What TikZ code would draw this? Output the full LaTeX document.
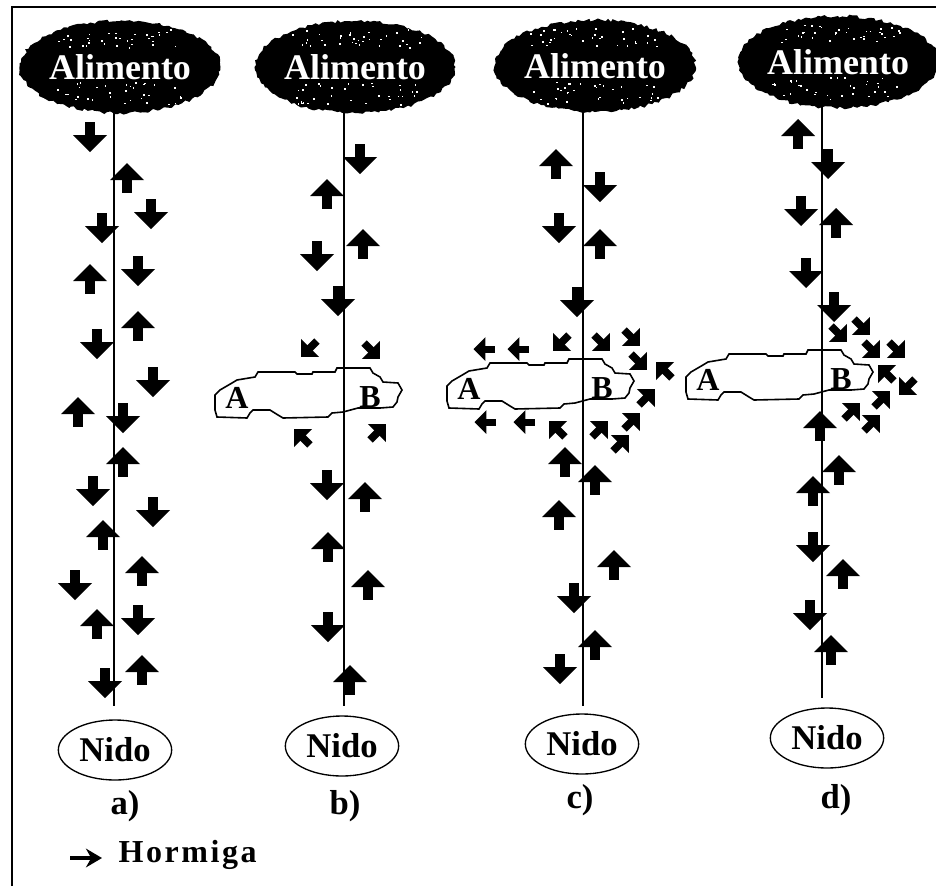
\documentclass[tikz,border=0pt]{standalone}
\usepackage{fontspec}
\setmainfont{Liberation Serif}
\newfontfamily\legendfont[LetterSpace=8.0]{Liberation Serif}
\usetikzlibrary{shapes.geometric, decorations.pathmorphing, arrows.meta}

\begin{document}
\begin{tikzpicture}[x=0.75pt, y=-0.75pt,
  trail/.style={line width=1.5pt},
  foodcloud/.style={ellipse, fill=black, text=white, inner sep=0pt,
    minimum width=124pt, minimum height=69pt,
    font=\fontsize{27}{27}\selectfont\bfseries,
    decorate, decoration={random steps, segment length=2.5pt, amplitude=1.2pt}},
  nestnode/.style={ellipse, draw, line width=1pt, inner sep=0pt,
    minimum width=85pt, minimum height=45pt,
    font=\fontsize{26}{26}\selectfont\bfseries},
  panellabel/.style={font=\fontsize{26}{26}\selectfont\bfseries},
  lobelabel/.style={font=\fontsize{24}{24}\selectfont\bfseries, inner sep=0pt},
  legendarrow/.style={line width=3.5pt, -{Stealth[length=12pt, width=14pt]}},
  goup/.style={rotate=180},
  goleft/.style={rotate=-90, scale=0.7},
  downleft/.style={rotate=-45, scale=0.75},
  downright/.style={rotate=45, scale=0.75},
  upleft/.style={rotate=-135, scale=0.75},
  upright/.style={rotate=135, scale=0.75},
  ant/.pic={
    \fill (-5,-15) rectangle (5,-1);
    \fill (-17,-2) -- (17,-2) -- (0,15) -- cycle;
  },
  obstacle/.pic={
    \draw[line width=1.2pt] (-86,-23) -- (-49,-23) -- (-47,-21) -- (-32,-21) -- (-31,-23)
      -- (-9,-23) -- (-7,-27) -- (26,-27) -- (29,-22) -- (36,-18) -- (39,-13)
      -- (54,-12) -- (58,-5) -- (54,2) -- (53,7) -- (49,12) -- (36,13) -- (14,13)
      -- (-1,17) -- (-12,18) -- (-16,22) -- (-61,23) -- (-66,20) -- (-74,15)
      -- (-91,15) -- (-94,18) -- (-97,23) -- (-127,22) -- (-129,15) -- (-129,0)
      -- (-124,-5) -- (-112,-12) -- (-107,-15) -- (-89,-18) -- cycle;
    \node[lobelabel] (-a) at (-107,3) {A};
    \node[lobelabel] (-b) at (26,2) {B};
  }
]
  \useasboundingbox (0,0) rectangle (936,886);

  % Frame
  \coordinate (frame-bl) at (12,886);
  \coordinate (frame-tl) at (12,7);
  \coordinate (frame-tr) at (936,7);
  \draw[line width=1.5pt] (frame-bl) -- (frame-tl) -- (frame-tr);

  % Food and nest
  \node[foodcloud] (food-a) at (120,67) {Alimento};
  \node[foodcloud] (food-b) at (355,67) {Alimento};
  \node[foodcloud] (food-c) at (595,66) {Alimento};
  \node[foodcloud] (food-d) at (838,62) {Alimento};
  \pgfmathsetseed{7}
  \foreach \c in {a,b,c,d} {
    \foreach \i in {1,...,34} {
      \fill[white] ([shift={(rand*66,-29+rand*9)}]food-\c.center) rectangle ++(1.6,1.6);
      \fill[white] ([shift={(rand*66,26+rand*11)}]food-\c.center) rectangle ++(1.6,1.6);
    }
  }
  \node[nestnode] (nest-a) at (115,750) {Nido};
  \node[nestnode] (nest-b) at (342,746) {Nido};
  \node[nestnode] (nest-c) at (582,744) {Nido};
  \node[nestnode] (nest-d) at (827,738) {Nido};

  % Trails
  \coordinate (top-a) at (114,110);
  \coordinate (bot-a) at (114,706);
  \coordinate (top-b) at (344,113);
  \coordinate (bot-b) at (344,706);
  \coordinate (top-c) at (583,111);
  \coordinate (bot-c) at (583,706);
  \coordinate (top-d) at (822,106);
  \coordinate (bot-d) at (822,698);
  \draw[trail] (top-a) -- (bot-a);
  \draw[trail] (top-b) -- (bot-b);
  \draw[trail] (top-c) -- (bot-c);
  \draw[trail] (top-d) -- (bot-d);

  % Obstacles
  \pic (obst-b) at (344,395) {obstacle};
  \pic (obst-c) at (576,386) {obstacle};
  \pic (obst-d) at (815,377) {obstacle};

  % Panel a
  \pic at (90,137) {ant};
  \pic[goup] at (127,178) {ant};
  \pic at (151,214) {ant};
  \pic at (102,228) {ant};
  \pic at (138,271) {ant};
  \pic[goup] at (90,279) {ant};
  \pic[goup] at (138,326) {ant};
  \pic at (97,344) {ant};
  \pic at (153,382) {ant};
  \pic[goup] at (78,412) {ant};
  \pic at (123,418) {ant};
  \pic[goup] at (123,462) {ant};
  \pic at (93,491) {ant};
  \pic at (153,512) {ant};
  \pic[goup] at (103,535) {ant};
  \pic[goup] at (142,571) {ant};
  \pic at (75,585) {ant};
  \pic at (138,620) {ant};
  \pic[goup] at (97,624) {ant};
  \pic[goup] at (142,670) {ant};
  \pic at (105,683) {ant};

  % Panel b
  \pic at (360,159) {ant};
  \pic[goup] at (327,194) {ant};
  \pic[goup] at (363,244) {ant};
  \pic at (317,256) {ant};
  \pic at (338,301) {ant};
  \pic[downleft] at (309,349) {ant};
  \pic[downright] at (372,351) {ant};
  \pic[upleft] at (302,437) {ant};
  \pic[upright] at (378,432) {ant};
  \pic at (327,485) {ant};
  \pic[goup] at (365,497) {ant};
  \pic[goup] at (328,547) {ant};
  \pic[goup] at (368,585) {ant};
  \pic at (328,627) {ant};
  \pic[goup] at (350,680) {ant};

  % Panel c
  \pic[goup] at (556,164) {ant};
  \pic at (600,187) {ant};
  \pic at (559,228) {ant};
  \pic[goup] at (600,244) {ant};
  \pic at (577,302) {ant};
  \pic[goleft] at (484,349) {ant};
  \pic[goleft] at (518,349) {ant};
  \pic[downleft] at (561,343) {ant};
  \pic[downright] at (602,343) {ant};
  \pic[downright] at (632,338) {ant};
  \pic[downright] at (639,362) {ant};
  \pic[upleft] at (664,370) {ant};
  \pic[upright] at (647,397) {ant};
  \pic[goleft] at (485,422) {ant};
  \pic[goleft] at (524,422) {ant};
  \pic[upleft] at (557,429) {ant};
  \pic[upright] at (600,429) {ant};
  \pic[upright] at (632,421) {ant};
  \pic[upright] at (621,443) {ant};
  \pic[goup] at (565,462) {ant};
  \pic[goup] at (595,480) {ant};
  \pic[goup] at (559,515) {ant};
  \pic[goup] at (614,565) {ant};
  \pic at (574,598) {ant};
  \pic[goup] at (595,645) {ant};
  \pic at (560,669) {ant};

  % Panel d
  \pic[goup] at (798,134) {ant};
  \pic at (828,164) {ant};
  \pic at (801,211) {ant};
  \pic[goup] at (836,223) {ant};
  \pic at (806,273) {ant};
  \pic at (834,307) {ant};
  \pic[downright] at (839,334) {ant};
  \pic[downright] at (862,327) {ant};
  \pic[downright] at (872,350) {ant};
  \pic[downright] at (897,350) {ant};
  \pic[upleft] at (886,373) {ant};
  \pic[downleft] at (907,387) {ant};
  \pic[upright] at (882,399) {ant};
  \pic[upright] at (852,411) {ant};
  \pic[upright] at (872,423) {ant};
  \pic[goup] at (820,426) {ant};
  \pic[goup] at (839,470) {ant};
  \pic[goup] at (813,491) {ant};
  \pic at (813,547) {ant};
  \pic[goup] at (843,574) {ant};
  \pic at (810,615) {ant};
  \pic[goup] at (831,650) {ant};

  % Panel labels
  \node[panellabel] (lab-a) at (125,806) {a)};
  \node[panellabel] (lab-b) at (345,806) {b)};
  \node[panellabel] (lab-c) at (580,800) {c)};
  \node[panellabel] (lab-d) at (836,800) {d)};

  % Legend
  \coordinate (leg-tail) at (70,858);
  \coordinate (leg-head) at (102,858);
  \draw[legendarrow] (leg-tail) -- (leg-head);
  \node[anchor=west, font=\fontsize{24}{24}\legendfont\bfseries] (legend) at (114,855) {Hormiga};
\end{tikzpicture}
\end{document}
